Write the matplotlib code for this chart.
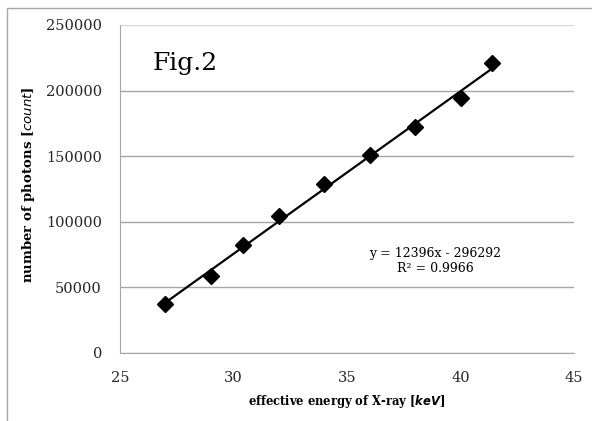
import numpy as np
import matplotlib.pyplot as plt
from matplotlib.patches import Rectangle

# data
energy = [27, 29, 30.4, 32, 34, 36, 38, 40, 41.4]
photons = [37500, 58500, 82500, 104500, 128500, 151000, 172000, 194000, 221000]

slope = 12396
intercept = -296292
r2 = 0.9966

x_ticks = [25, 30, 35, 40, 45]
y_ticks = [0, 50000, 100000, 150000, 200000, 250000]

plt.rcParams['font.family'] = ['DejaVu Serif']

fig = plt.figure(figsize=(5.92, 4.21), dpi=100)
ax = fig.add_axes([120/592, 1 - 353/421, (574-120)/592, (353-25)/421])

# outer chart frame (only top and left edges visible)
fig.patches.append(Rectangle((7/592, -0.1), 1.2, 1 - 8/421 + 0.1,
                             transform=fig.transFigure, fill=False,
                             edgecolor='#a6a6a6', linewidth=1.0))

xt = np.array([energy[0], energy[-1]])
ax.plot(xt, slope*xt + intercept, color='black', linewidth=1.6, zorder=2)
ax.plot(energy, photons, linestyle='none', marker='D', markersize=8,
        color='black', zorder=3)

ax.set_xlim(25, 45)
ax.set_ylim(0, 250000)
ax.set_xticks(x_ticks)
ax.set_yticks(y_ticks)
ax.tick_params(length=0, labelsize=10.5, pad=13, labelcolor='#262626')
ax.grid(axis='y', color='#a6a6a6', linewidth=1.0)
ax.set_axisbelow(True)
for s in ['top', 'right']:
    ax.spines[s].set_visible(False)
for s in ['left', 'bottom']:
    ax.spines[s].set_color('#a6a6a6')
ax.get_ygridlines()[-1].set_color('#d9d9d9')

ax.set_xlabel(r'effective energy of X-ray [$\mathbfit{keV}$]',
              fontsize=8.3, fontweight='bold', labelpad=6)
ax.set_ylabel(r'number of photons [$\mathit{count}$]',
              fontsize=9.5, fontweight='bold', labelpad=6, y=0.514)

ax.text(26.45, 220500, 'Fig.2', fontsize=18, va='center', ha='left')
ax.text(38.9, 70000, f'y = {slope}x - {-intercept}\nR² = {r2}',
        fontsize=9, ha='center', va='center', linespacing=1.15)

fig.savefig('out.png', dpi=100)
